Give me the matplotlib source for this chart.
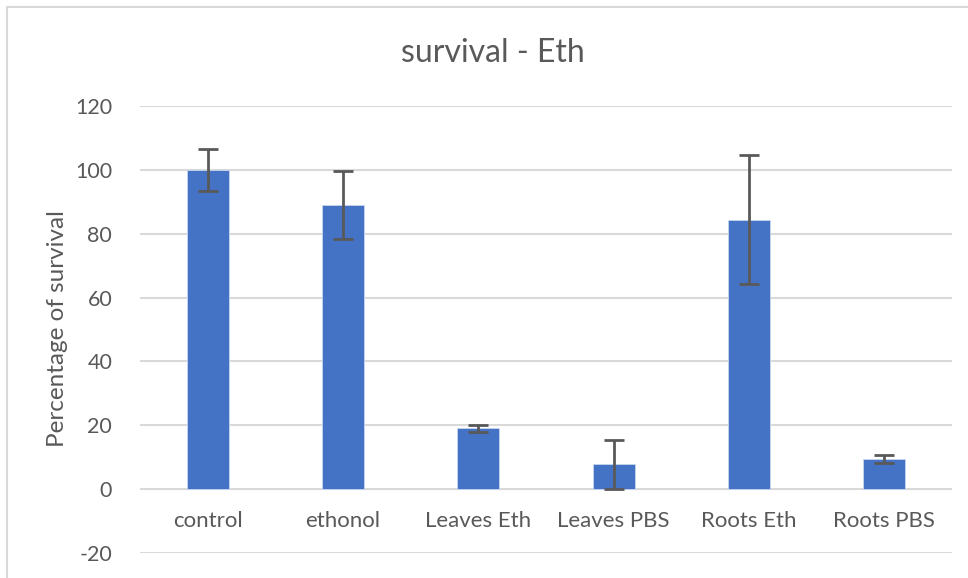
import matplotlib
matplotlib.use("Agg")
import matplotlib.pyplot as plt
from matplotlib.patches import Rectangle

categories = ["control", "ethonol", "Leaves Eth", "Leaves PBS", "Roots Eth", "Roots PBS"]
survival = [100.0, 88.9, 19.0, 7.8, 84.4, 9.4]
errors = [6.5, 10.7, 1.0, 7.7, 20.2, 1.3]
yticks = [-20, 0, 20, 40, 60, 80, 100, 120]

plt.rcParams['font.family'] = ['Lato', 'DejaVu Sans']
text_color = "#595959"
grid_color = "#d9d9d9"
bar_color = "#4472C4"

fig = plt.figure(figsize=(9.68, 5.78), dpi=100)
fig.patch.set_facecolor("white")

# chart area border (top and left visible)
fig.add_artist(Rectangle((7 / 968, -0.1), 1.2, 1.1 - 7 / 578, transform=fig.transFigure,
                         fill=False, edgecolor=grid_color, linewidth=1.5))

ax = fig.add_axes([140 / 968, 25 / 578, 812 / 968, 447 / 578])
x = list(range(len(categories)))
ax.bar(x, survival, width=0.31, color=bar_color, edgecolor="#c9d6ee", linewidth=0.6, zorder=3)
ax.errorbar(x, survival, yerr=errors, fmt="none", ecolor=text_color, elinewidth=2,
            capsize=7.5, capthick=2, zorder=4)

ax.set_xlim(-0.5, len(categories) - 0.5)
ax.set_ylim(yticks[0], yticks[-1])
ax.set_yticks(yticks)
ax.set_yticklabels([str(t) for t in yticks], fontsize=15.5, color=text_color)
ax.tick_params(axis="y", length=0, pad=20)
ax.set_xticks([])
for xi, lab in zip(x, categories):
    ax.text(xi, -10, lab, ha="center", va="center", fontsize=16, color=text_color)

ax.grid(axis="y", color=grid_color, linewidth=1.5, zorder=0)
for s in ax.spines.values():
    s.set_visible(False)

fig.text(57 / 968, 1 - 329 / 578, "Percentage of survival", rotation=90,
         ha="center", va="center", fontsize=17.5, color=text_color)
fig.text(493 / 968, 1 - 53 / 578, "survival - Eth", ha="center", va="center",
         fontsize=23, color=text_color)

fig.savefig("out.png", dpi=100, facecolor="white")
